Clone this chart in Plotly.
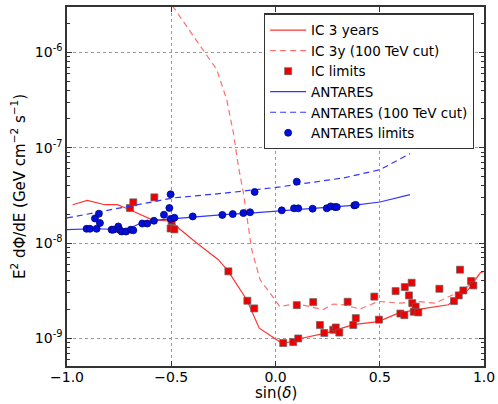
import plotly.graph_objects as go

# IC 3 years (solid)
ic_x = [-0.973, -0.903, -0.818, -0.759, -0.698, -0.594, -0.498, -0.474, -0.378, -0.274, -0.226,
        -0.138, -0.078, 0.030, 0.085, 0.109, 0.246, 0.373, 0.493, 0.589, 0.677, 0.829, 0.877,
        0.925, 0.981, 0.997]
ic_y = [2.52e-8, 2.80e-8, 2.52e-8, 2.52e-8, 2.23e-8, 1.76e-8, 1.69e-8, 1.49e-8, 1.0e-8, 6.68e-9,
        5.04e-9, 2.54e-9, 1.28e-9, 8.93e-10, 9.27e-10, 9.84e-10, 1.14e-9, 1.39e-9, 1.50e-9,
        1.84e-9, 2.0e-9, 2.25e-9, 2.75e-9, 3.24e-9, 4.84e-9, 5.04e-9]

# IC 3y (100 TeV cut) (dashed)
iccut_x = [-0.55, -0.490, -0.338, -0.282, -0.234, -0.202, -0.178, -0.154, -0.114, -0.074, -0.026,
           0.020, 0.102, 0.165, 0.229, 0.277, 0.325, 0.405, 0.493, 0.597, 0.677, 0.765, 0.837,
           0.885, 0.933, 0.981]
iccut_y = [4.6e-6, 2.99e-6, 1.01e-6, 6.59e-7, 3.19e-7, 1.43e-7, 6.37e-8, 3.35e-8, 8.5e-9, 4.12e-9,
           2.99e-9, 2.16e-9, 2.31e-9, 2.16e-9, 2.0e-9, 2.29e-9, 2.25e-9, 2.03e-9, 2.44e-9,
           2.34e-9, 2.44e-9, 2.34e-9, 2.75e-9, 3.1e-9, 3.65e-9, 4.84e-9]

# IC limits (squares)
iclim_x = [-0.698, -0.682, -0.581, -0.498, -0.503, -0.485, -0.226, -0.135, -0.102, 0.037, 0.085,
           0.109, 0.102, 0.181, 0.213, 0.234, 0.277, 0.289, 0.306, 0.346, 0.373, 0.385, 0.474,
           0.496, 0.576, 0.599, 0.618, 0.620, 0.640, 0.653, 0.656, 0.672, 0.663, 0.685, 0.786,
           0.856, 0.879, 0.885, 0.901, 0.938, 0.949]
iclim_y = [2.33e-8, 2.67e-8, 3.01e-8, 1.69e-8, 1.42e-8, 1.39e-8, 5.04e-9, 2.48e-9, 2.06e-9,
           8.93e-10, 9.14e-10, 9.97e-10, 2.23e-9, 2.40e-9, 1.38e-9, 1.14e-9, 1.23e-9, 1.30e-9,
           1.15e-9, 2.42e-9, 1.38e-9, 1.63e-9, 2.74e-9, 1.57e-9, 3.13e-9, 1.82e-9, 1.75e-9,
           3.45e-9, 2.82e-9, 3.83e-9, 2.34e-9, 2.15e-9, 1.90e-9, 1.87e-9, 3.31e-9, 2.46e-9,
           2.82e-9, 5.25e-9, 3.18e-9, 3.99e-9, 3.59e-9]

# ANTARES (solid)
ant_x = [-1.0, -0.874, -0.714, -0.650, -0.586, -0.490, -0.394, -0.250, -0.122, 0.030, 0.181,
         0.373, 0.501, 0.645]
ant_y = [1.38e-8, 1.41e-8, 1.38e-8, 1.60e-8, 1.73e-8, 1.80e-8, 1.90e-8, 1.98e-8, 2.06e-8,
         2.20e-8, 2.31e-8, 2.48e-8, 2.69e-8, 3.21e-8]

# ANTARES (100 TeV cut) (dashed)
antcut_x = [-1.0, -0.874, -0.714, -0.490, -0.234, 0.020, 0.325, 0.501, 0.645]
antcut_y = [1.83e-8, 2.06e-8, 2.42e-8, 2.97e-8, 3.35e-8, 3.87e-8, 4.81e-8, 5.87e-8, 8.65e-8]

# ANTARES limits (dots)
antlim_x = [-0.906, -0.890, -0.858, -0.866, -0.847, -0.842, -0.786, -0.778, -0.754, -0.749,
            -0.738, -0.717, -0.694, -0.682, -0.639, -0.615, -0.583, -0.535, -0.509, -0.503,
            -0.503, -0.485, -0.397, -0.255, -0.205, -0.154, -0.122, -0.100, 0.030, 0.089,
            0.109, 0.102, 0.178, 0.246, 0.265, 0.285, 0.294, 0.378, 0.385]
antlim_y = [1.41e-8, 1.41e-8, 1.41e-8, 1.81e-8, 2.03e-8, 1.62e-8, 1.38e-8, 1.38e-8, 1.49e-8,
            1.38e-8, 1.32e-8, 1.32e-8, 1.38e-8, 1.36e-8, 1.60e-8, 1.60e-8, 1.71e-8, 1.98e-8,
            2.33e-8, 3.24e-8, 1.79e-8, 1.84e-8, 1.90e-8, 1.97e-8, 2.01e-8, 2.06e-8, 2.10e-8,
            3.43e-8, 2.20e-8, 2.31e-8, 2.31e-8, 4.40e-8, 2.29e-8, 2.31e-8, 2.42e-8, 2.38e-8,
            2.38e-8, 2.48e-8, 2.51e-8]

x_ticks = [-1.0, -0.5, 0.0, 0.5, 1.0]
x_ticktext = ["\u22121.0", "\u22120.5", "0.0", "0.5", "1.0"]
y_ticks = [1e-9, 1e-8, 1e-7, 1e-6]
y_ticktext = ["10<sup>-9</sup>", "10<sup>-8</sup>", "10<sup>-7</sup>", "10<sup>-6</sup>"]
y_minor = [m * d for d in [1e-10, 1e-9, 1e-8, 1e-7, 1e-6] for m in range(2, 10)]

RED = "#ff3333"
RED_L = "#ff7070"
BLUE = "#3333ff"
FRAME = "#333333"

fig = go.Figure()
fig.add_trace(go.Scatter(x=ic_x, y=ic_y, mode="lines", name="IC 3 years",
                         line=dict(color=RED, width=1.2)))
fig.add_trace(go.Scatter(x=iccut_x, y=iccut_y, mode="lines", name="IC 3y (100 TeV cut)",
                         line=dict(color=RED_L, width=1.2, dash="6px,4px")))
fig.add_trace(go.Scatter(x=iclim_x, y=iclim_y, mode="markers", name="IC limits",
                         marker=dict(symbol="square", size=7, color="#ee0000",
                                     line=dict(color="rgba(100,100,100,0.7)", width=1))))
fig.add_trace(go.Scatter(x=ant_x, y=ant_y, mode="lines", name="ANTARES",
                         line=dict(color=BLUE, width=1.2)))
fig.add_trace(go.Scatter(x=antcut_x, y=antcut_y, mode="lines", name="ANTARES (100 TeV cut)",
                         line=dict(color=BLUE, width=1.2, dash="6px,4px")))
fig.add_trace(go.Scatter(x=antlim_x, y=antlim_y, mode="markers", name="ANTARES limits",
                         marker=dict(symbol="circle", size=7, color="#0010d8",
                                     line=dict(color="#000080", width=0.8))))

fig.update_layout(
    width=498, height=404,
    margin=dict(l=67, r=14, t=7, b=38),
    paper_bgcolor="white", plot_bgcolor="white",
    font=dict(family="DejaVu Sans", size=14, color="black"),
    showlegend=True,
    legend=dict(x=0.472, y=0.982, xanchor="left", yanchor="top",
                bordercolor=FRAME, borderwidth=1.3, bgcolor="white",
                font=dict(size=13.5), tracegroupgap=0, itemwidth=36),
    xaxis=dict(range=[-1.0, 1.0], tickvals=x_ticks, ticktext=x_ticktext,
               showline=True, mirror="ticks", linecolor=FRAME, linewidth=1.5,
               ticks="inside", ticklen=5, tickcolor=FRAME, ticklabelstandoff=-3,
               showgrid=True, gridcolor="#999999", griddash="dot", gridwidth=1,
               zeroline=False, automargin=False),
    yaxis=dict(type="log", range=[-9.29, -5.525], tickvals=y_ticks, ticktext=y_ticktext,
               showline=True, mirror="ticks", linecolor=FRAME, linewidth=1.5,
               ticks="inside", ticklen=5, tickcolor=FRAME,
               showgrid=True, gridcolor="#999999", griddash="dot", gridwidth=1,
               zeroline=False,
               minor=dict(tickmode="array", tickvals=y_minor, ticks="inside", ticklen=3,
                          tickcolor=FRAME, tickwidth=1, showgrid=False),
               title=dict(text="E<sup>2</sup> dΦ/dE (GeV cm<sup>−2</sup> s<sup>−1</sup>)",
                          font=dict(size=15), standoff=6)),
    annotations=[dict(text="sin(<i>δ</i>)", xref="paper", yref="paper", x=0.5, y=-0.1055,
                      xanchor="center", yanchor="bottom", showarrow=False,
                      font=dict(size=15))],
)

fig.write_html("out.html")
